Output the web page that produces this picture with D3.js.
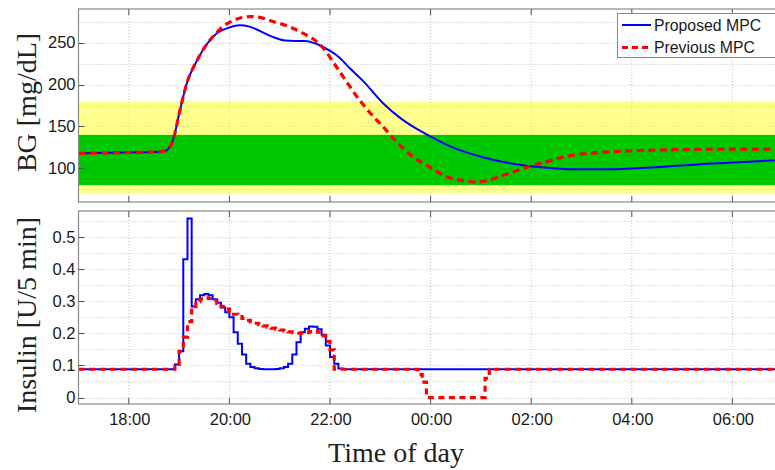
<!DOCTYPE html>
<html><head><meta charset="utf-8">
<script src="https://cdn.jsdelivr.net/npm/d3@7"></script>
<style>body{margin:0;background:#fff}</style></head>
<body><svg id="c" width="775" height="470"></svg>
<script>
// ---- data (time in hours of day; after midnight = 24+) ----
const bgProposedTime  = [17.0,18.0,18.6,18.73,18.88,19.02,19.15,19.35,19.55,19.75,20.0,20.2,20.4,20.6,20.85,21.1,21.3,21.5,21.75,22.0,22.15,22.4,22.66,23.05,23.4,23.7,24.0,24.4,25.0,25.5,26.0,26.5,27.0,27.5,28.0,28.5,29.0,29.5,30.0,30.5,31.0];
const bgProposedValue = [118,119,119.8,121,134,170,201,228,248,261,268,270.5,269,264,257,252.5,252,252,248,240,234,219,204,178,160,148,138,126,114,107,102.7,100,99,99,100,101.5,103.5,105.5,107,108.5,110.5];
const bgPreviousTime  = [17.0,18.0,18.6,18.73,18.88,19.02,19.15,19.35,19.55,19.75,19.87,20.0,20.2,20.41,20.6,20.87,21.14,21.34,21.5,21.74,21.9,22.06,22.3,22.53,22.8,23.05,23.35,23.65,24.0,24.32,24.6,24.84,25.1,25.31,25.6,25.98,26.3,26.63,27.0,27.63,28.0,29.0,30.0,31.0];
const bgPreviousValue = [118,119,119.8,121,134,170,201,228,248,262,269,274,279,281,280,275,270,265,260,251,241,227,206,186,166,150,130,114,101,90,86,84,85,89,95,102.7,108,113.5,117,120,121,122.5,123,123];

const insProposedTime  = ["17:00","18:55","19:00","19:05","19:10","19:15","19:20","19:25","19:30","19:35","19:40","19:45","19:50","19:55","20:00","20:05","20:10","20:15","20:20","20:25","20:30","20:35","20:40","20:45","20:50","20:55","21:00","21:05","21:10","21:15","21:20","21:25","21:30","21:35","21:40","21:45","21:50","21:55","22:00","22:05","22:10","22:15","07:00"];
const insProposedValue = [0.088,0.103,0.144,0.43,0.557,0.283,0.306,0.318,0.322,0.318,0.306,0.295,0.28,0.265,0.25,0.203,0.167,0.134,0.105,0.095,0.091,0.089,0.088,0.088,0.088,0.089,0.091,0.095,0.105,0.134,0.172,0.203,0.214,0.221,0.22,0.212,0.195,0.162,0.126,0.105,0.09,0.088,0.088];
const insPreviousTime  = ["17:00","18:55","19:00","19:05","19:10","19:15","19:20","19:25","19:30","19:35","19:40","19:45","19:50","19:55","20:00","20:05","20:10","20:15","20:20","20:25","20:30","20:35","20:40","20:45","20:50","20:55","21:00","21:05","21:10","21:15","21:20","21:25","21:30","21:35","21:40","21:45","21:50","21:55","22:00","22:05","23:45","23:50","23:55","01:05","01:10","07:00"];
const insPreviousValue = [0.088,0.103,0.144,0.188,0.236,0.278,0.298,0.307,0.31,0.308,0.302,0.292,0.283,0.275,0.267,0.259,0.252,0.246,0.24,0.235,0.231,0.227,0.223,0.219,0.216,0.213,0.21,0.207,0.204,0.202,0.2,0.2,0.202,0.205,0.207,0.203,0.192,0.175,0.148,0.088,0.072,0.048,0,0.06,0.088,0.088];

const xTickHours  = [18,20,22,24,26,28,30];
const xTickLabels = ["18:00","20:00","22:00","00:00","02:00","04:00","06:00"];
const bgTicks   = [100,150,200,250];
const insTicks  = [0,0.1,0.2,0.3,0.4,0.5];
const yellowBand = [70,180];
const greenBand  = [80,140];
const seriesNames = ["Proposed MPC","Previous MPC"];

// ---- helpers ----
function toHours(s){ const [h,m]=s.split(":").map(Number); let v=h+m/60; if(v<17) v+=24; return v; }

const svg = d3.select("#c");
const L = 78.5, R = 782.7;
const x = d3.scaleLinear().domain([17,31]).range([L,R]);
const top1 = {y0:9, y1:202}, bot = {y0:211, y1:404};
const yBG = d3.scaleLinear().domain([60,290]).range([top1.y1, top1.y0]);
const yIns = d3.scaleLinear().domain([-0.02,0.58]).range([bot.y1, bot.y0]);

const gridColor = "#c4c4c4", frameColor = "#8a8a8a", tickColor = "#555";
const sansFont = "'Liberation Sans', Arial, sans-serif";
const serifFont = "'Liberation Serif', 'Times New Roman', serif";

svg.append("defs").call(d=>{
  d.append("clipPath").attr("id","clipTop").append("rect").attr("x",L).attr("y",top1.y0).attr("width",R-L).attr("height",top1.y1-top1.y0);
  d.append("clipPath").attr("id","clipBot").append("rect").attr("x",L).attr("y",bot.y0).attr("width",R-L).attr("height",bot.y1-bot.y0);
});

function grid(g, p, yScale, yGrid){
  g.selectAll(null).data(xTickHours).join("line")
    .attr("x1",d=>x(d)).attr("x2",d=>x(d)).attr("y1",p.y0).attr("y2",p.y1)
    .attr("stroke",gridColor).attr("stroke-dasharray","1,2").attr("stroke-width",1);
  g.selectAll(null).data(yGrid).join("line")
    .attr("x1",L).attr("x2",R).attr("y1",d=>Math.round(yScale(d))+0.5).attr("y2",d=>Math.round(yScale(d))+0.5)
    .attr("stroke",gridColor).attr("stroke-dasharray","1,2").attr("stroke-width",1);
}
function frame(g, p, yScale, yT, fmt){
  g.append("rect").attr("x",L).attr("y",p.y0).attr("width",R-L).attr("height",p.y1-p.y0)
    .attr("fill","none").attr("stroke",frameColor).attr("stroke-width",1.2);
  xTickHours.forEach(h=>{
    g.append("line").attr("x1",x(h)).attr("x2",x(h)).attr("y1",p.y1).attr("y2",p.y1-6).attr("stroke",tickColor);
    g.append("line").attr("x1",x(h)).attr("x2",x(h)).attr("y1",p.y0).attr("y2",p.y0+6).attr("stroke",tickColor);
  });
  yT.forEach(v=>{
    const yy = Math.round(yScale(v))+0.5;
    g.append("line").attr("x1",L).attr("x2",L+6).attr("y1",yy).attr("y2",yy).attr("stroke",tickColor);
    g.append("text").attr("x",L-3).attr("y",yScale(v)).attr("dy","0.35em")
      .attr("text-anchor","end").attr("font-family",sansFont).attr("font-size",16.5).attr("fill","#1a1a1a")
      .text(fmt(v));
  });
}

// ---- top panel ----
const gt = svg.append("g");
gt.append("rect").attr("x",L).attr("y",top1.y0).attr("width",R-L).attr("height",top1.y1-top1.y0).attr("fill","#fff");
grid(gt, top1, yBG, d3.range(75,290,25));
const bands = gt.append("g").attr("clip-path","url(#clipTop)");
bands.append("rect").attr("x",L).attr("width",R-L).attr("y",yBG(yellowBand[1])).attr("height",yBG(yellowBand[0])-yBG(yellowBand[1]))
  .attr("fill","#ffff00").attr("fill-opacity",0.45);
bands.append("rect").attr("x",L).attr("width",R-L).attr("y",yBG(greenBand[1])).attr("height",yBG(greenBand[0])-yBG(greenBand[1]))
  .attr("fill","#00c800");

const bgLine = d3.line().x(d=>x(d[0])).y(d=>yBG(d[1])).curve(d3.curveMonotoneX);
const lt = gt.append("g").attr("clip-path","url(#clipTop)");
lt.append("path").attr("d",bgLine(d3.zip(bgProposedTime,bgProposedValue)))
  .attr("fill","none").attr("stroke","#0000ff").attr("stroke-width",2);
lt.append("path").attr("d",bgLine(d3.zip(bgPreviousTime,bgPreviousValue)))
  .attr("fill","none").attr("stroke","#ff0000").attr("stroke-width",3.2).attr("stroke-dasharray","7,4.5");
frame(gt, top1, yBG, bgTicks, d=>d3.format("d")(d));

// legend
const lg = svg.append("g");
lg.append("rect").attr("x",617.5).attr("y",13.5).attr("width",170).attr("height",44).attr("fill","#fff").attr("stroke","#8a8a8a").attr("stroke-width",1);
const legY = [25,47.5];
lg.append("line").attr("x1",622).attr("x2",651).attr("y1",legY[0]).attr("y2",legY[0]).attr("stroke","#0000ff").attr("stroke-width",2);
lg.append("line").attr("x1",622).attr("x2",651).attr("y1",legY[1]).attr("y2",legY[1]).attr("stroke","#ff0000").attr("stroke-width",3.2).attr("stroke-dasharray","6,4");
seriesNames.forEach((n,i)=>{
  lg.append("text").attr("x",654).attr("y",legY[i]+5.6).attr("font-family",sansFont).attr("font-size",15.8).attr("fill","#1a1a1a").text(n);
});

// ---- bottom panel ----
const gb = svg.append("g");
grid(gb, bot, yIns, d3.range(0,0.56,0.05).map(v=>+v.toFixed(2)));
const insLine = d3.line().x(d=>x(d[0])).y(d=>yIns(d[1])).curve(d3.curveStepAfter);
const lb = gb.append("g").attr("clip-path","url(#clipBot)");
lb.append("path").attr("d",insLine(d3.zip(insProposedTime.map(toHours),insProposedValue)))
  .attr("fill","none").attr("stroke","#0000ff").attr("stroke-width",2);
lb.append("path").attr("d",insLine(d3.zip(insPreviousTime.map(toHours),insPreviousValue)))
  .attr("fill","none").attr("stroke","#ff0000").attr("stroke-width",3.2).attr("stroke-dasharray","6,4.5");
frame(gb, bot, yIns, insTicks, d=>d===0?"0":d3.format(".1f")(d));

// x tick labels
xTickHours.forEach((h,i)=>{
  svg.append("text").attr("x",x(h)+1).attr("y",425).attr("text-anchor","middle")
    .attr("font-family",sansFont).attr("font-size",16.5).attr("fill","#1a1a1a").text(xTickLabels[i]);
});

// axis titles
svg.append("text").attr("transform","translate(36,102.5) rotate(-90)").attr("text-anchor","middle")
  .attr("font-family",serifFont).attr("font-size",28).attr("fill","#222").text("BG [mg/dL]");
svg.append("text").attr("transform","translate(36,315) rotate(-90)").attr("text-anchor","middle")
  .attr("font-family",serifFont).attr("font-size",28).attr("fill","#222").text("Insulin [U/5 min]");
svg.append("text").attr("x",396).attr("y",461.5).attr("text-anchor","middle")
  .attr("font-family",serifFont).attr("font-size",28).attr("fill","#222").text("Time of day");
</script></body></html>
